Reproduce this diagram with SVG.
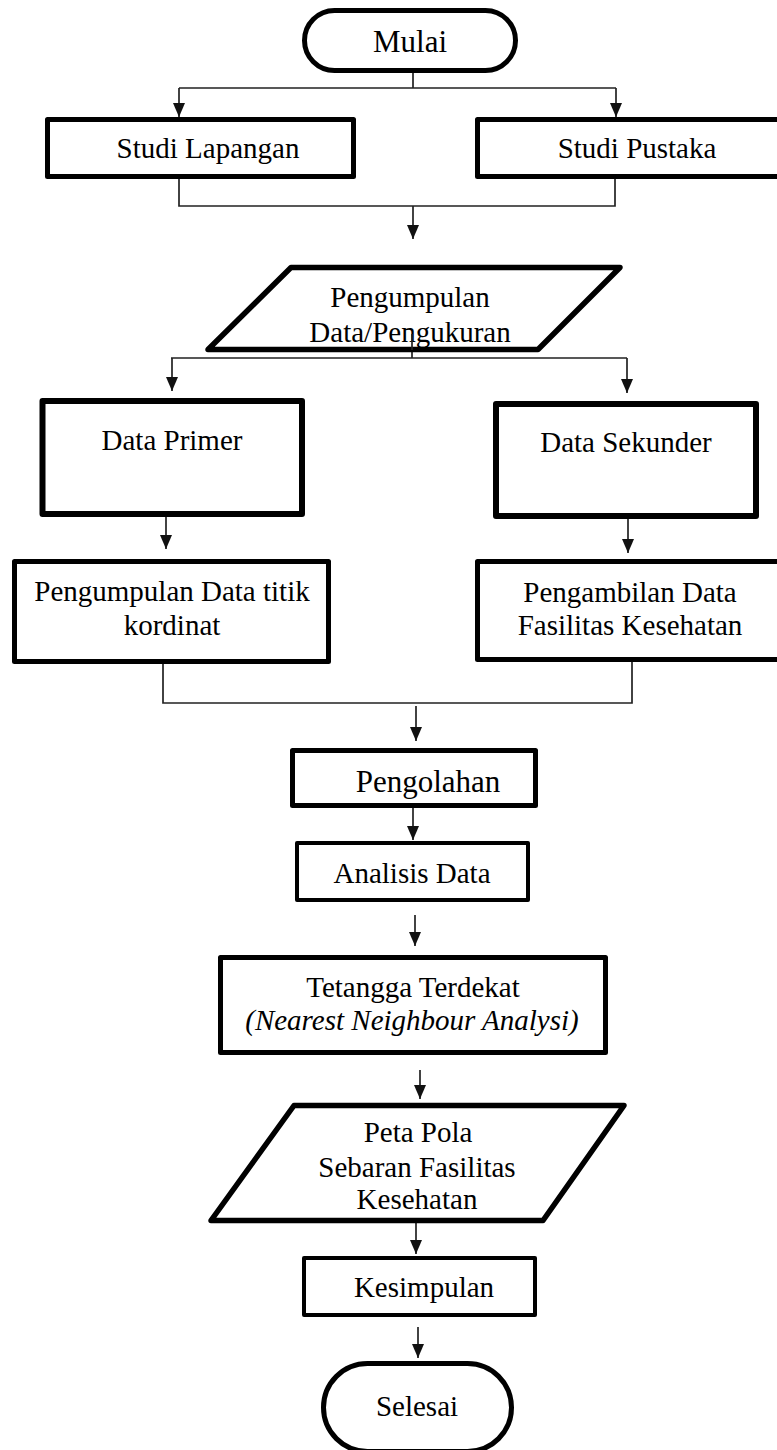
<svg xmlns="http://www.w3.org/2000/svg" width="777" height="1450" viewBox="0 0 777 1450">
<defs>
<style>
.n{fill:#fff;stroke:#000;stroke-linejoin:round}
.t{font-family:"Liberation Serif","Times New Roman",serif;font-size:29px;fill:#000;text-anchor:middle}
.c{fill:none;stroke:#222;stroke-width:1.7}
.a{fill:none;stroke:#222;stroke-width:1.7;marker-end:url(#ah)}
</style>
<marker id="ah" markerUnits="userSpaceOnUse" markerWidth="15" markerHeight="13" refX="14" refY="6.5" orient="auto">
<path d="M0,0.5 L14,6.5 L0,12.5 z" fill="#111"/>
</marker>
</defs>
<rect width="777" height="1450" fill="#fff"/>
<g id="connectors">
<path class="c" d="M413,73 V88 M179,88 H616"/>
<path class="a" d="M179,88 V117"/>
<path class="a" d="M616,88 V117"/>
<path class="c" d="M179,178 V206 H615 V177"/>
<path class="a" d="M413,206 V239"/>
<path class="c" d="M412,340 V358 M171,358 H627"/>
<path class="a" d="M172,358 V391"/>
<path class="a" d="M627,358 V393"/>
<path class="a" d="M166,517 V549"/>
<path class="a" d="M628,519 V553"/>
<path class="c" d="M163,664 V703 H632 V662"/>
<path class="a" d="M416,706 V741"/>
<path class="a" d="M413,808 V840"/>
<path class="a" d="M415,915 V946"/>
<path class="a" d="M420,1070 V1099"/>
<path class="a" d="M416,1223 V1254"/>
<path class="a" d="M418,1327 V1358"/>
</g>
<g id="mulai">
<rect class="n" x="304.5" y="10.5" width="211" height="60" rx="30" stroke-width="5"/>
<text class="t" x="410" y="52" style="font-size:31px">Mulai</text>
</g>
<g id="studi-lapangan">
<rect class="n" x="47.5" y="119.5" width="306" height="57" stroke-width="5"/>
<text class="t" x="208" y="158">Studi Lapangan</text>
</g>
<g id="studi-pustaka">
<rect class="n" x="477.5" y="119.5" width="310" height="57" stroke-width="5"/>
<text class="t" x="637" y="158">Studi Pustaka</text>
</g>
<g id="pengumpulan">
<polygon class="n" points="291,267.5 620,267.5 538,349.5 208,349.5" stroke-width="5.5"/>
<text class="t" x="410" y="307">Pengumpulan</text>
<text class="t" x="410" y="342">Data/Pengukuran</text>
</g>
<path class="c" d="M412,334 V350"/>
<g id="data-primer">
<rect class="n" x="42.5" y="401" width="259.5" height="113" stroke-width="6"/>
<text class="t" x="172" y="450">Data Primer</text>
</g>
<g id="data-sekunder">
<rect class="n" x="496" y="404" width="260" height="112" stroke-width="6"/>
<text class="t" x="626" y="452">Data Sekunder</text>
</g>
<g id="pengumpulan-titik">
<rect class="n" x="14.5" y="561.5" width="314" height="100" stroke-width="5"/>
<text class="t" x="172" y="601">Pengumpulan Data titik</text>
<text class="t" x="172" y="635">kordinat</text>
</g>
<g id="pengambilan">
<rect class="n" x="477.5" y="561.5" width="310" height="98" stroke-width="5"/>
<text class="t" x="630" y="602">Pengambilan Data</text>
<text class="t" x="630" y="635">Fasilitas Kesehatan</text>
</g>
<g id="pengolahan">
<rect class="n" x="292.5" y="750.5" width="243" height="55" stroke-width="5"/>
<text class="t" x="428" y="792" style="font-size:31px">Pengolahan</text>
</g>
<g id="analisis">
<rect class="n" x="297" y="843" width="231" height="57" stroke-width="4"/>
<text class="t" x="412" y="883">Analisis Data</text>
</g>
<g id="tetangga">
<rect class="n" x="220.5" y="957.5" width="385" height="95" stroke-width="5"/>
<text class="t" x="413" y="997">Tetangga Terdekat</text>
<text class="t" x="412" y="1030" font-style="italic">(Nearest Neighbour Analysi)</text>
</g>
<g id="peta">
<polygon class="n" points="294,1105.5 624,1105.5 543,1220.5 211,1220.5" stroke-width="5.5"/>
<text class="t" x="418" y="1142">Peta Pola</text>
<text class="t" x="417" y="1177">Sebaran Fasilitas</text>
<text class="t" x="417" y="1209">Kesehatan</text>
</g>
<g id="kesimpulan">
<rect class="n" x="304" y="1258" width="231" height="57" stroke-width="4"/>
<text class="t" x="424" y="1297">Kesimpulan</text>
</g>
<g id="selesai">
<rect class="n" x="323.5" y="1363.5" width="188" height="88" rx="44" stroke-width="5"/>
<text class="t" x="417" y="1416">Selesai</text>
</g>
</svg>
